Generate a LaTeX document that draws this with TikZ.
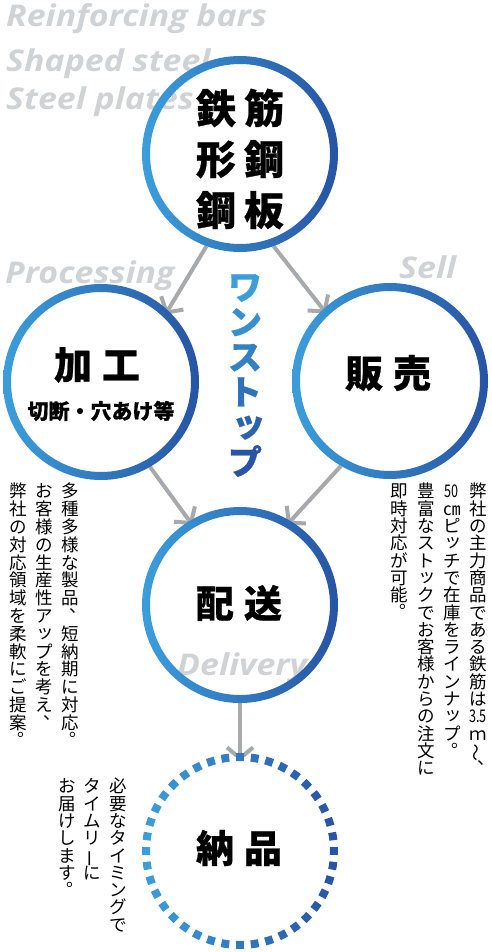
\documentclass[tikz,border=0pt]{standalone}
\usepackage{fontspec}
\usepackage{graphicx}
\usetikzlibrary{arrows.meta,calc}
\newfontfamily\enfont{Open Sans}
\newfontfamily\jpfont{Noto Sans CJK JP}[BoldFeatures={FakeBold=0.6}]
\definecolor{ghost}{RGB}{208,211,213}
\definecolor{arrowgray}{RGB}{167,169,172}
\definecolor{ringL}{RGB}{59,158,218}
\definecolor{ringR}{RGB}{39,84,164}
\colorlet{v1}{ringR!0!ringL}
\colorlet{v2}{ringR!20!ringL}
\colorlet{v3}{ringR!40!ringL}
\colorlet{v4}{ringR!60!ringL}
\colorlet{v5}{ringR!80!ringL}
\colorlet{v6}{ringR!100!ringL}
% ---- vertical (tategaki) stacking ----
\newdimen\cw \newdimen\vadv
\def\vTen{、}\def\vMaru{。}\def\vBar{ー}\def\vWave{〜}\def\vTsu{ッ}
\def\vcell#1{\hbox to \cw{\hss#1\hss}}
\def\vpunct#1{\hbox to \cw{\kern0.52em\raisebox{0.58em}{#1}\hss}}
\def\vput#1{\def\vtmp{#1}%
  \ifx\vtmp\vTen \vpunct{、}%
  \else\ifx\vtmp\vMaru \vpunct{。}%
  \else\ifx\vtmp\vBar \vcell{\rotatebox[origin=c]{90}{ー}}%
  \else\ifx\vtmp\vWave \vcell{\rotatebox[origin=c]{90}{〜}}%
  \else\ifx\vtmp\vTsu \vcell{\kern0.22em\raisebox{0.12em}{ッ}}%
  \else \vcell{#1}\fi\fi\fi\fi\fi}
\def\vloop#1{\ifx\relax#1\else\vput{#1}\expandafter\vloop\fi}
\newcommand\vcol[1]{\vtop{\baselineskip=\vadv\lineskiplimit=-\maxdimen\lineskip=0pt\vloop#1\relax}}
\newcommand\sq[1]{\scalebox{0.72}[1]{#1}}
\tikzset{
  ghosttext/.style={text=ghost, inner sep=0, anchor=base west, font=\enfont\bfseries\itshape\fontsize{30}{30}\selectfont},
  holder/.style={circle, minimum size=196pt, inner sep=0, outer sep=0},
  flow/.style={draw=arrowgray, line width=4pt, -{Straight Barb[length=11pt,width=26pt]}, shorten >=-5pt},
  bigjp/.style={inner sep=0, font=\jpfont\bfseries\fontsize{40}{51}\selectfont, align=center},
  midjp/.style={inner sep=0, font=\jpfont\bfseries\fontsize{38}{38}\selectfont},
  vtext/.style={anchor=north east, inner sep=0, font=\jpfont\fontsize{17.5}{17.5}\selectfont},
}
\newcommand\ring[1]{\shade[even odd rule, left color=ringL, right color=ringR] (#1) circle[radius=98pt] (#1) circle[radius=90pt];}
\newcommand\gx[1]{\scalebox{1.13}[1]{#1}}
\begin{document}
\begin{tikzpicture}[x=1pt,y=-1pt]
\useasboundingbox (0,0) rectangle (491,952);
% ghost english texts
\node[ghosttext] (e1) at (6,27) {\gx{Reinforcing bars}};
\node[ghosttext] (e2) at (6,72) {\gx{Shaped steel}};
\node[ghosttext] (e3) at (6,110) {\gx{Steel plates}};
\node[ghosttext] (e4) at (5,283) {\gx{Processing}};
\node[ghosttext] (e5) at (399,278) {\gx{Sell}};
\node[ghosttext] (e6) at (177,675) {\gx{Delivery}};
% circle holders
\node[holder] (T) at (240,154) {};
\node[holder] (P) at (101,382) {};
\node[holder] (S) at (390,381) {};
\node[holder] (D) at (240,605) {};
\node[holder] (N) at (240,851) {};
% connectors
\draw[flow] (T.-110) -- (P.47);
\draw[flow] (T.-70) -- (S.133);
\draw[flow] (P.-60) -- (D.121);
\draw[flow] (S.-120) -- (D.59);
\draw[flow, shorten >=-8pt] (D.-90) -- (N.90);
% rings
\ring{T}
\ring{P}
\ring{S}
\ring{D}
\foreach \k in {0,...,39}{
  \pgfmathsetmacro\a{90+9*\k}
  \pgfmathsetmacro\t{50+50*cos(\a)}
  \draw[line width=8pt, color=ringR!\t!ringL] ($(N)+(\a-2.4:94pt)$) arc[start angle=\a-2.4, end angle=\a+2.4, radius=94pt];
}
% labels in circles
\node[bigjp] (tT) at (240,159) {鉄\hspace{8pt}筋\\形\hspace{8pt}鋼\\鋼\hspace{8pt}板};
\node[midjp] (tP) at (97,365) {加\hspace{10pt}工};
\node[inner sep=0, font=\jpfont\bfseries\fontsize{21}{21}\selectfont] (tP2) at (101,411) {切断・穴あけ等};
\node[midjp] (tS) at (388,373) {販\hspace{10pt}売};
\node[midjp] (tD) at (239,603) {配\hspace{10pt}送};
\node[midjp] (tN) at (239,848) {納\hspace{10pt}品};
% vertical one-stop
\node[anchor=north, inner sep=0, font=\jpfont\bfseries\fontsize{34}{34}\selectfont] (one) at (245,274)
  {\cw=36pt\vadv=35pt\vcol{{\color{v1}ワ}{\color{v2}ン}{\color{v3}ス}{\color{v4}ト}{\color{v5}\kern0.22em\raisebox{0.1em}{ッ}}{\color{v6}プ}}};
% vertical paragraphs
\node[vtext] (pP) at (79,483) {\cw=18pt\vadv=17.8pt%
  \vcol{弊社の対応領域を柔軟にご提案。}\hspace{8pt}%
  \vcol{お客様の生産性アップを考え、}\hspace{8pt}%
  \vcol{多種多様な製品、短納期に対応。}};
\node[vtext] (pS) at (487,483) {\cw=18pt\vadv=17.3pt%
  \vcol{即時対応が可能。}\hspace{8.5pt}%
  \vcol{豊富なストックでお客様からの注文に}\hspace{8pt}%
  \vcol{{\sq{50}}㎝ピッチで在庫をラインナップ。}\hspace{8pt}%
  \vcol{弊社の主力商品である鉄筋は{\sq{3.5}}ｍ〜、}};
\node[vtext] (pN) at (127,778) {\cw=18pt\vadv=17.3pt%
  \vcol{お届けします。}\hspace{7.5pt}%
  \vcol{タイムリーに}\hspace{7.5pt}%
  \vcol{必要なタイミングで}};
\end{tikzpicture}
\end{document}
